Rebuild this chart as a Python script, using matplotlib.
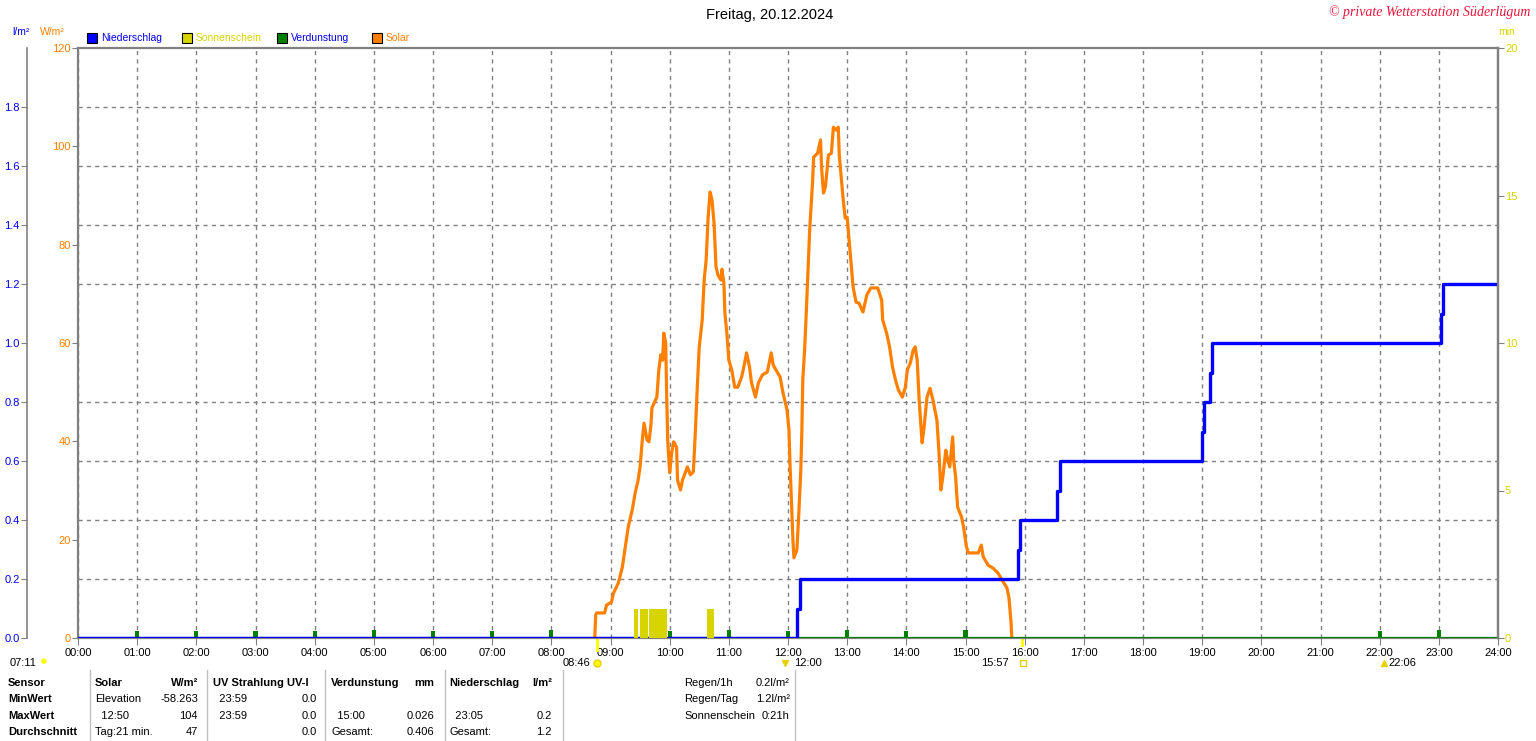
"""Tagesgrafik Wetterstation: Solar, Niederschlag, Sonnenschein, Verdunstung."""

import matplotlib

matplotlib.use("Agg")
import matplotlib.pyplot as plt
import matplotlib.transforms as mtransforms
from matplotlib.patches import Rectangle

plt.rcParams["font.family"] = ["Liberation Sans", "DejaVu Sans"]

W, H = 1536, 741

# --- Daten ---------------------------------------------------------------
hours = list(range(25))
hour_labels = [f"{h:02d}:00" for h in hours]

solar_ticks = [0, 20, 40, 60, 80, 100, 120]
rain_ticks = [0.0, 0.2, 0.4, 0.6, 0.8, 1.0, 1.2, 1.4, 1.6, 1.8]
sun_ticks = [0, 5, 10, 15, 20]

# Solarstrahlung (Minuten seit Mitternacht, W/m²)
solar_min = [524, 525, 526, 534, 536, 541, 543, 548, 552, 555,
             558, 562, 565, 568, 570, 572, 574, 577, 579, 581,
             582, 587, 589, 591, 593, 594, 596, 597, 598, 600,
             602, 604, 607, 608, 611, 613, 618, 621, 624, 626,
             628, 630, 633, 635, 637, 639, 641, 643, 645, 647,
             649, 652, 653, 655, 656, 658, 660, 663, 666, 669,
             673, 676, 678, 681, 683, 687, 690, 694, 699, 701,
             703, 705, 709, 712, 715, 719, 721, 722, 724, 725,
             726, 729, 731, 733, 734, 735, 737, 739, 742, 745,
             746, 750, 753, 754, 756, 758, 761, 764, 766, 769,
             771, 772, 774, 776, 778, 780, 782, 784, 786, 789,
             792, 796, 800, 804, 811, 815, 816, 820, 823, 826,
             829, 832, 836, 839, 841, 844, 847, 849, 851, 853,
             856, 858, 861, 864, 867, 871, 873, 875, 877, 880,
             882, 884, 887, 888, 890, 892, 896, 898, 901, 903,
             913, 916, 918, 923, 928, 933, 937, 942, 944, 946,
             947]
solar_wm2 = [0, 4.7, 5.1, 5.1, 6.7, 7.3, 9.1, 11.2, 14.4, 18.5,
             22.6, 26, 29.5, 32.1, 34.8, 39.7, 43.7, 40.3, 39.9, 43.3,
             46.8, 49.0, 54.5, 57.6, 56.5, 62, 60, 49, 40.3, 33.6,
             37.6, 39.9, 38.8, 32.1, 30.1, 32.1, 34.8, 33.2, 33.8, 41.7,
             51, 59.2, 64.7, 72.8, 76.9, 85.6, 90.7, 89, 84.4, 75.5,
             73.8, 72.8, 75, 72.2, 66.1, 62, 56.5, 54.5, 51, 51,
             53.1, 55.9, 58, 55.1, 51.9, 49, 51.9, 53.5, 54.1, 56.1,
             58, 55.5, 54.1, 53.1, 49.8, 46.4, 42.3, 35.6, 25.4, 19.9,
             16.3, 17.9, 25.4, 34.2, 41.7, 52.5, 59.2, 68.4, 83, 93.1,
             97.8, 98.6, 101.3, 95.8, 90.5, 91.8, 98.2, 98.6, 103.9, 103.3,
             103.9, 98.2, 93.6, 89.1, 85.4, 85.6, 80.9, 76.3, 71.4, 68.3,
             68.1, 66.3, 69.8, 71.2, 71.2, 68.7, 64.7, 62, 59.2, 55.1,
             52.5, 50.4, 49, 51, 54.5, 55.9, 58.6, 59.2, 56.5, 48.4,
             39.7, 42.9, 49, 50.8, 48.4, 44.3, 38.2, 30.1, 32.7, 38.2,
             36.2, 34.8, 40.9, 36.2, 32.7, 26.6, 24.6, 22.6, 18.5, 17.3,
             17.3, 18.9, 16.5, 14.8, 14.2, 13.2, 11.8, 10.2, 8.3, 3.7,
             0]

# Niederschlag kumuliert (Stunde, l/m²)
rain_h = [0, 12.15, 12.20, 15.88, 15.92, 16.55, 16.60, 18.99, 19.03,
          19.13, 19.17, 23.03, 23.07, 24]
rain_sum = [0.0, 0.1, 0.2, 0.3, 0.4, 0.5, 0.6, 0.7, 0.8,
            0.9, 1.0, 1.1, 1.2, 1.2]

# Sonnenschein (Beginn/Ende in Stunden, min)
sun_start = [9.40, 9.50, 9.65, 10.63]
sun_end = [9.46, 9.63, 9.95, 10.75]
sun_minutes = [1, 1, 1, 1]

# Verdunstung stündlich (mm)
evap_h = [1, 2, 3, 4, 5, 6, 7, 8, 10, 11, 12, 13, 14, 15, 22, 23]
evap_mm = [0.025, 0.025, 0.025, 0.025, 0.026, 0.025, 0.025, 0.026,
           0.025, 0.026, 0.025, 0.026, 0.025, 0.026, 0.025, 0.026]

# Sonnen-/Mondereignisse (Stunde, Text)
event_h = [8.767, 12.0, 15.95, 22.1]
event_txt = ["08:46", "12:00", "15:57", "22:06"]

BLUE = "#0000ff"
ORANGE = "#ff8000"
YELLOW = "#d8d400"
GREEN = "#008000"
GRAY = "#808080"


def fx(x):
    return x / W


def fy(y):
    return 1 - y / H


fig = plt.figure(figsize=(W / 100, H / 100), dpi=100)
ax = fig.add_axes([fx(78), fy(638), 1420 / W, 590 / H])
ax.set_xlim(0, 24)
ax.set_ylim(0, 120)

# Gitter
ax.set_xticks(hours)
ax.set_xticklabels(hour_labels)
ax.set_yticks(solar_ticks)
ax.set_yticks([12 * i for i in range(1, 10)], minor=True)
ax.grid(False)
ax.xaxis.grid(True, ls=(0, (3, 3)), color=GRAY, lw=1)
ax.yaxis.grid(True, which="minor", ls=(0, (3, 3)), color=GRAY, lw=1)
ax.tick_params(axis="y", which="minor", length=0)
ax.tick_params(axis="y", which="major", length=4, color=GRAY, labelcolor=ORANGE,
               labelsize=8, pad=1)
ax.tick_params(axis="x", length=5, color=GRAY, labelsize=8, pad=2)
for sp in ax.spines.values():
    sp.set_color(GRAY)
    sp.set_linewidth(1.6)

# Solar
ax.plot([m / 60 for m in solar_min], solar_wm2, color=ORANGE, lw=2.3, zorder=3)

# Niederschlag-Achse links aussen
ax2 = ax.twinx()
ax2.set_ylim(0, 2.0)
ax2.yaxis.set_ticks_position("left")
ax2.spines["left"].set_position(("outward", 37))
ax2.spines["left"].set_visible(True)
ax2.spines["left"].set_color(GRAY)
ax2.spines["left"].set_linewidth(1.2)
for side in ["right", "top", "bottom"]:
    ax2.spines[side].set_visible(False)
ax2.set_yticks(rain_ticks)
ax2.set_yticklabels([f"{v:.1f}" for v in rain_ticks])
ax2.tick_params(axis="y", length=4, color=GRAY, labelcolor=BLUE, labelsize=8, pad=1)

ax2.bar(evap_h, evap_mm, width=0.07, color=GREEN, zorder=2)
ax2.plot([0, 24], [0, 0], color=GREEN, lw=1.5, zorder=2)
ax2.step(rain_h, rain_sum, where="post", color=BLUE, lw=2.4, zorder=4)

# Sonnenschein-Achse rechts
ax3 = ax.twinx()
ax3.set_ylim(0, 20)
ax3.set_yticks(sun_ticks)
for side in ["left", "top", "bottom"]:
    ax3.spines[side].set_visible(False)
ax3.spines["right"].set_color(GRAY)
ax3.spines["right"].set_linewidth(1.6)
ax3.tick_params(axis="y", length=4, color=GRAY, labelcolor=YELLOW, labelsize=8, pad=1)
ax3.bar(sun_start, sun_minutes,
        width=[e - s for s, e in zip(sun_start, sun_end)],
        align="edge", color=YELLOW, zorder=2)

# Ereignisse unter der Zeitachse
trans = mtransforms.blended_transform_factory(ax.transData, ax.transAxes)
ev_y = -25 / 590
ax.plot([event_h[0]] * 2, [-0.002, -0.02], color="#ffff00", lw=2,
        transform=trans, clip_on=False)
ax.plot([event_h[2]] * 2, [-0.002, -0.012], color="#ffff00", lw=2,
        transform=trans, clip_on=False)
ax.text(event_h[0] - 0.1, ev_y, event_txt[0], ha="right", va="center",
        fontsize=8, transform=trans)
ax.plot(event_h[0], ev_y, "o", ms=5, color="#ffff00", mec="#e8d000",
        transform=trans, clip_on=False)
ax.text(event_h[1] + 0.1, ev_y, event_txt[1], ha="left", va="center",
        fontsize=8, transform=trans)
ax.plot(event_h[1] - 0.05, ev_y, "v", ms=5, color="#e8d000",
        transform=trans, clip_on=False)
ax.text(event_h[2] - 0.22, ev_y, event_txt[2], ha="right", va="center",
        fontsize=8, transform=trans)
ax.plot(event_h[2] + 0.02, ev_y, "s", ms=4, mfc="white", mec="#e8d000",
        transform=trans, clip_on=False)
ax.text(event_h[3] + 0.05, ev_y, event_txt[3], ha="left", va="center",
        fontsize=8, transform=trans)
ax.plot(event_h[3] - 0.03, ev_y, "^", ms=5, color="#e8d000",
        transform=trans, clip_on=False)
fig.text(fx(10), fy(663), "07:11", ha="left", va="center", fontsize=8)
fig.text(fx(44), fy(662), "\u25cf", ha="center", va="center", fontsize=9,
         color="#ffff00")

# Titel, Copyright, Einheiten
fig.text(fx(770), fy(15), "Freitag, 20.12.2024", ha="center", va="center",
         fontsize=10.5)
fig.text(fx(1530), fy(12), "\u00a9 private Wetterstation S\u00fcderl\u00fcgum",
         ha="right", va="center", fontsize=10, color="#f0143c",
         style="italic", family=["Liberation Serif", "DejaVu Serif"])
fig.text(fx(12), fy(32), "l/m\u00b2", ha="left", va="center", fontsize=7.5,
         color=BLUE)
fig.text(fx(40), fy(32), "W/m\u00b2", ha="left", va="center", fontsize=7.5,
         color=ORANGE)
fig.text(fx(1498), fy(32), "min", ha="left", va="center", fontsize=7.5,
         color=YELLOW)

# Legende
legend_items = [("Niederschlag", BLUE, BLUE, 87),
                ("Sonnenschein", YELLOW, YELLOW, 182),
                ("Verdunstung", GREEN, BLUE, 277),
                ("Solar", ORANGE, ORANGE, 372)]
for label, face, tcolor, x0 in legend_items:
    fig.patches.append(Rectangle((fx(x0), fy(43)), 10 / W, 10 / H,
                                 transform=fig.transFigure, facecolor=face,
                                 edgecolor="black", lw=0.8))
    fig.text(fx(x0 + 14), fy(38), label, ha="left", va="center", fontsize=7.5,
             color=tcolor)

# Tabelle unten
for xs in [90, 207, 325, 445, 563, 795]:
    fig.add_artist(plt.Line2D([fx(xs), fx(xs)], [fy(670), fy(741)],
                              color="#c0c0c0", lw=1))

row_y = [683, 699, 716, 732]
row_names = ["Sensor", "MinWert", "MaxWert", "Durchschnitt"]
table_left = [
    (95, ["Solar", "Elevation", "  12:50", "Tag:21 min."]),
    (213, ["UV Strahlung UV-I", "  23:59", "  23:59", ""]),
    (331, ["Verdunstung", "", "  15:00", "Gesamt:"]),
    (449, ["Niederschlag", "", "  23:05", "Gesamt:"]),
]
table_right = [
    (198, ["W/m\u00b2", "-58.263", "104", "47"]),
    (317, ["", "0.0", "0.0", "0.0"]),
    (434, ["mm", "", "0.026", "0.406"]),
    (552, ["l/m\u00b2", "", "0.2", "1.2"]),
]
for y, name in zip(row_y, row_names):
    fig.text(fx(8), fy(y), name, ha="left", va="center", fontsize=8,
             fontweight="bold")
for x0, col in table_left:
    for i, (y, t) in enumerate(zip(row_y, col)):
        fig.text(fx(x0), fy(y), t, ha="left", va="center", fontsize=8,
                 fontweight="bold" if i == 0 else "normal")
for x0, col in table_right:
    for i, (y, t) in enumerate(zip(row_y, col)):
        fig.text(fx(x0), fy(y), t, ha="right", va="center", fontsize=8,
                 fontweight="bold" if i == 0 else "normal")

rain_info = [("Regen/1h", "0.2l/m\u00b2"), ("Regen/Tag", "1.2l/m\u00b2"),
             ("Sonnenschein", "0:21h")]
for y, (k, v) in zip(row_y, rain_info):
    fig.text(fx(684), fy(y), k, ha="left", va="center", fontsize=8)
    fig.text(fx(790), fy(y), v, ha="right", va="center", fontsize=8)

fig.savefig("out.png", dpi=100)
